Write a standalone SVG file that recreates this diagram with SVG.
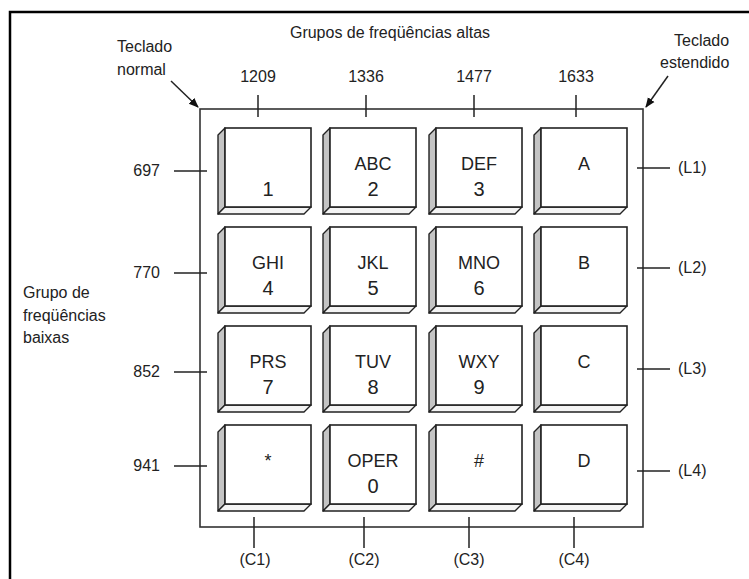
<svg xmlns="http://www.w3.org/2000/svg" width="749" height="579" viewBox="0 0 749 579">
<style>
text{font-family:"Liberation Sans",Arial,sans-serif;fill:#222}
.lbl{font-size:16px}
.mid{text-anchor:middle}
.end{text-anchor:end}
.k1{font-size:18px;text-anchor:middle}
.k2{font-size:20px;text-anchor:middle}
.ln{stroke:#222;stroke-width:1.5;fill:none}
.front{fill:#fff;stroke:#222;stroke-width:1.6}
.side{fill:#c4c4c4;stroke:#222;stroke-width:1.4;stroke-linejoin:round}
.bot{fill:#f4f4f4;stroke:#222;stroke-width:1.4;stroke-linejoin:round}
</style>
<defs>
<marker id="ah" markerWidth="10" markerHeight="10" refX="9" refY="5" orient="auto" markerUnits="userSpaceOnUse">
<path d="M0,1 L10,5 L0,9 Z" fill="#111"/>
</marker>
<g id="keyshape">
<polygon class="side" points="0,0 -7,7 -7,86 0,79"/>
<polygon class="bot" points="0,79 86,79 79,86 -7,86"/>
<rect class="front" x="0" y="0" width="86" height="79"/>
</g>
</defs>
<rect width="749" height="579" fill="#fff"/>
<path d="M10,579 V12 H749" fill="none" stroke="#000" stroke-width="2.5"/>
<g id="frame"><rect x="200" y="109" width="443" height="418" fill="none" stroke="#333" stroke-width="1.6"/></g>
<g id="labels">
<text class="lbl mid" x="390" y="38">Grupos de freqüências altas</text>
<text class="lbl" x="117" y="52">Teclado</text>
<text class="lbl" x="117" y="75">normal</text>
<text class="lbl" x="674" y="46">Teclado</text>
<text class="lbl" x="660" y="68">estendido</text>
<text class="lbl" x="23" y="298">Grupo de</text>
<text class="lbl" x="23" y="321">freqüências</text>
<text class="lbl" x="23" y="343">baixas</text>
<text class="lbl mid" x="258" y="82">1209</text>
<text class="lbl mid" x="366" y="82">1336</text>
<text class="lbl mid" x="474" y="82">1477</text>
<text class="lbl mid" x="576" y="82">1633</text>
<text class="lbl end" x="160" y="176">697</text>
<text class="lbl end" x="160" y="278">770</text>
<text class="lbl end" x="160" y="377">852</text>
<text class="lbl end" x="160" y="471">941</text>
<text class="lbl" x="678" y="173">(L1)</text>
<text class="lbl" x="678" y="273">(L2)</text>
<text class="lbl" x="678" y="374">(L3)</text>
<text class="lbl" x="678" y="476">(L4)</text>
<text class="lbl mid" x="255" y="565">(C1)</text>
<text class="lbl mid" x="364" y="565">(C2)</text>
<text class="lbl mid" x="469" y="565">(C3)</text>
<text class="lbl mid" x="574" y="565">(C4)</text>
</g>
<g id="connectors">
<line class="ln" x1="258" y1="95" x2="258" y2="117"/>
<line class="ln" x1="366" y1="95" x2="366" y2="117"/>
<line class="ln" x1="474" y1="95" x2="474" y2="117"/>
<line class="ln" x1="576" y1="95" x2="576" y2="117"/>
<line class="ln" x1="174" y1="171" x2="207" y2="171"/>
<line class="ln" x1="174" y1="273" x2="207" y2="273"/>
<line class="ln" x1="174" y1="372" x2="207" y2="372"/>
<line class="ln" x1="174" y1="466" x2="207" y2="466"/>
<line class="ln" x1="637" y1="168" x2="670" y2="168"/>
<line class="ln" x1="637" y1="268" x2="670" y2="268"/>
<line class="ln" x1="637" y1="369" x2="670" y2="369"/>
<line class="ln" x1="637" y1="471" x2="670" y2="471"/>
<line class="ln" x1="254" y1="517" x2="254" y2="548"/>
<line class="ln" x1="364" y1="517" x2="364" y2="548"/>
<line class="ln" x1="469" y1="517" x2="469" y2="548"/>
<line class="ln" x1="574" y1="517" x2="574" y2="548"/>
<line class="ln" x1="171" y1="81" x2="198" y2="107" marker-end="url(#ah)"/>
<line class="ln" x1="668" y1="76" x2="646" y2="107" marker-end="url(#ah)"/>
</g>
<g id="key-1"><use href="#keyshape" x="225" y="128"/><text class="k2" x="268" y="196">1</text></g>
<g id="key-2"><use href="#keyshape" x="330" y="128"/><text class="k1" x="373" y="170">ABC</text><text class="k2" x="373" y="196">2</text></g>
<g id="key-3"><use href="#keyshape" x="436" y="128"/><text class="k1" x="479" y="170">DEF</text><text class="k2" x="479" y="196">3</text></g>
<g id="key-A"><use href="#keyshape" x="541" y="128"/><text class="k1" x="584" y="170">A</text></g>
<g id="key-4"><use href="#keyshape" x="225" y="227"/><text class="k1" x="268" y="269">GHI</text><text class="k2" x="268" y="295">4</text></g>
<g id="key-5"><use href="#keyshape" x="330" y="227"/><text class="k1" x="373" y="269">JKL</text><text class="k2" x="373" y="295">5</text></g>
<g id="key-6"><use href="#keyshape" x="436" y="227"/><text class="k1" x="479" y="269">MNO</text><text class="k2" x="479" y="295">6</text></g>
<g id="key-B"><use href="#keyshape" x="541" y="227"/><text class="k1" x="584" y="269">B</text></g>
<g id="key-7"><use href="#keyshape" x="225" y="326"/><text class="k1" x="268" y="368">PRS</text><text class="k2" x="268" y="394">7</text></g>
<g id="key-8"><use href="#keyshape" x="330" y="326"/><text class="k1" x="373" y="368">TUV</text><text class="k2" x="373" y="394">8</text></g>
<g id="key-9"><use href="#keyshape" x="436" y="326"/><text class="k1" x="479" y="368">WXY</text><text class="k2" x="479" y="394">9</text></g>
<g id="key-C"><use href="#keyshape" x="541" y="326"/><text class="k1" x="584" y="368">C</text></g>
<g id="key-star"><use href="#keyshape" x="225" y="425"/><text class="k1" x="268" y="467">*</text></g>
<g id="key-0"><use href="#keyshape" x="330" y="425"/><text class="k1" x="373" y="467">OPER</text><text class="k2" x="373" y="493">0</text></g>
<g id="key-hash"><use href="#keyshape" x="436" y="425"/><text class="k1" x="479" y="467">#</text></g>
<g id="key-D"><use href="#keyshape" x="541" y="425"/><text class="k1" x="584" y="467">D</text></g>
</svg>
